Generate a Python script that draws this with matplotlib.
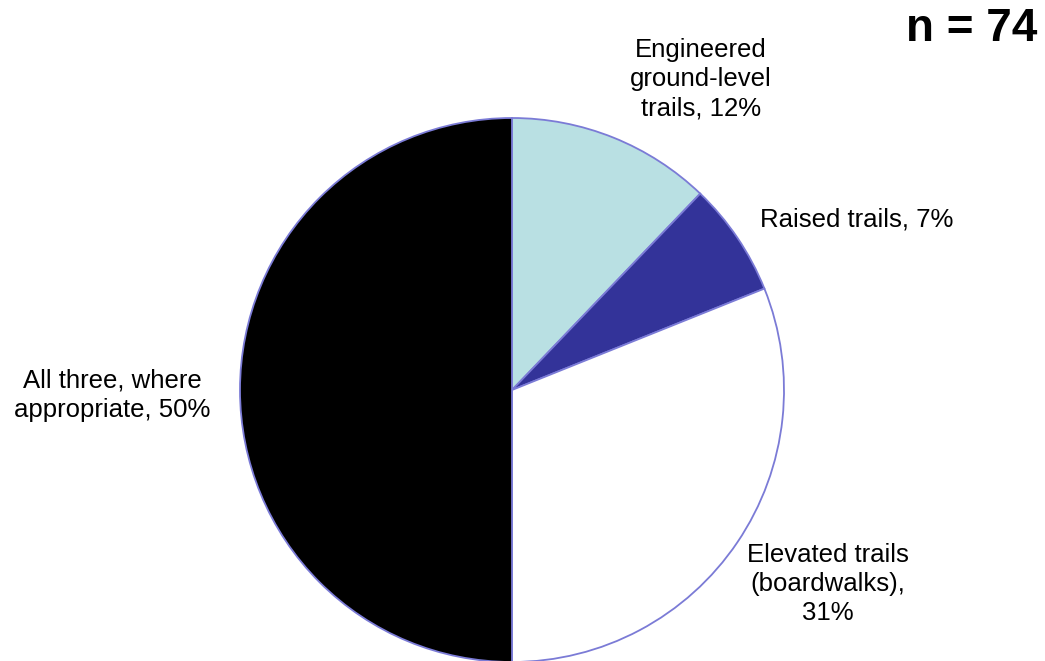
import matplotlib
matplotlib.use("Agg")
import matplotlib.pyplot as plt

categories = ["Engineered\nground-level\ntrails", "Raised trails", "Elevated trails\n(boardwalks),", "All three, where\nappropriate"]
values = [9, 5, 23, 37]
pct_labels = ["12%", "7%", "31%", "50%"]
colors = ["#B9E0E3", "#333399", "#FFFFFF", "#000000"]
n_total = 74

plt.rcParams['font.family'] = ['Liberation Sans', 'DejaVu Sans']

W, H = 1045, 661
fig = plt.figure(figsize=(W / 100, H / 100), dpi=100)
ax = fig.add_axes([0, 0, 1, 1])

cx, cy, r = 512, H - 390, 272
ax.pie(values, colors=colors, startangle=90, counterclock=False,
       center=(cx, cy), radius=r, frame=True,
       wedgeprops=dict(edgecolor="#7B7BD6", linewidth=1.3))
ax.set_xlim(0, W)
ax.set_ylim(0, H)
ax.set_aspect('equal')
ax.axis('off')

label_pos = [(701, 79), (857, 220), (828, 584), (112, 395)]
for (x, y), cat, p, i in zip(label_pos, categories, pct_labels, range(4)):
    if i == 2:
        txt = cat + "\n" + p
    else:
        txt = cat + ", " + p
    ax.text(x, H - y, txt, ha='center', va='center', fontsize=18.5,
            linespacing=1.27, color='black')

ax.text(972, H - 29, f"n = {n_total}", ha='center', va='center',
        fontsize=33, fontweight='bold')

fig.savefig("out.png", dpi=100)
